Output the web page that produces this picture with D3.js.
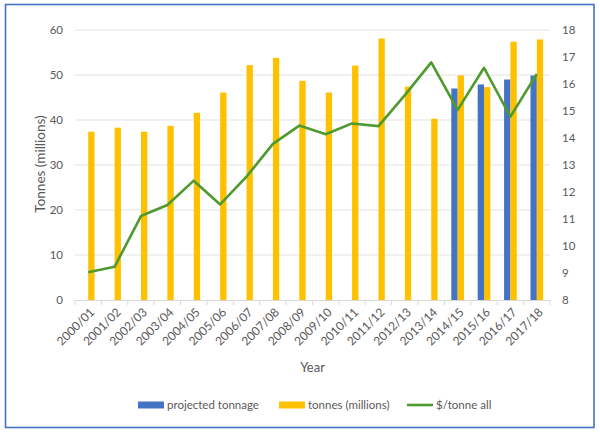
<!DOCTYPE html>
<html>
<head>
<meta charset="utf-8">
<script src="https://cdn.jsdelivr.net/npm/d3@7"></script>
<style>
  body { margin: 0; background: #fff; }
  text { font-family: Lato, "Open Sans", sans-serif; fill: #595959; }
</style>
</head>
<body>
<svg id="chart" width="600" height="434"></svg>
<script>
const years = ['2000/01', '2001/02', '2002/03', '2003/04', '2004/05', '2005/06', '2006/07', '2007/08', '2008/09',
  '2009/10', '2010/11', '2011/12', '2012/13', '2013/14', '2014/15', '2015/16', '2016/17', '2017/18']
// projected tonnage only exists for the last four years
const projected = [null, null, null, null, null, null, null, null, null, null, null, null, null, null, 47.0, 47.9, 49.0, 49.9]
const tonnes = [37.4, 38.3, 37.4, 38.7, 41.6, 46.1, 52.2, 53.8, 48.7, 46.1, 52.1, 58.1, 47.4, 40.3, 49.9, 47.3, 57.4, 57.9]
const pricePerTonne = [9.03, 9.23, 11.11, 11.52, 12.42, 11.54, 12.57, 13.78, 14.46, 14.14, 14.54, 14.44, 15.59, 16.8, 15.04, 16.6, 14.79, 16.37]
const leftTicks = [0, 10, 20, 30, 40, 50, 60]
const rightTicks = [8, 9, 10, 11, 12, 13, 14, 15, 16, 17, 18]

const colors = { projected: '#4472C4', tonnes: '#FFC000', price: '#4E9A2F' }

const svg = d3.select('#chart')
const margin = { top: 30, right: 50, bottom: 134, left: 75 }
const width = 600 - margin.left - margin.right
const height = 434 - margin.top - margin.bottom

// outer frame
svg.append('rect')
  .attr('x', 5.5).attr('y', 4.5)
  .attr('width', 588.5).attr('height', 423)
  .attr('fill', '#fff')
  .attr('stroke', '#4472C4')
  .attr('stroke-width', 1.6)

const g = svg.append('g').attr('transform', `translate(${margin.left},${margin.top})`)

const x = d3.scaleBand().domain(years).range([0, width])
const y = d3.scaleLinear().domain([0, 60]).range([height, 0])
const y2 = d3.scaleLinear().domain([8, 18]).range([height, 0])
const barW = x.bandwidth() * 0.24

// gridlines
g.append('g').selectAll('line').data(leftTicks.slice(1)).enter().append('line')
  .attr('x1', 0).attr('x2', width)
  .attr('y1', d => y(d)).attr('y2', d => y(d))
  .attr('stroke', '#e3e3e3').attr('stroke-width', 1)

// left axis
const yAxis = g.append('g').call(d3.axisLeft(y).tickValues(leftTicks).tickSize(0).tickPadding(12))
yAxis.select('.domain').remove()
yAxis.selectAll('text').style('font-size', '11.5px').attr('fill', '#595959')

// right axis
const yAxis2 = g.append('g').attr('transform', `translate(${width},0)`)
  .call(d3.axisRight(y2).tickValues(rightTicks).tickSize(0).tickPadding(12))
yAxis2.select('.domain').remove()
yAxis2.selectAll('text').style('font-size', '11.5px').attr('fill', '#595959')

// bars
g.append('g').selectAll('rect').data(years.filter((d, i) => projected[i] != null)).enter().append('rect')
  .attr('x', d => x(d) + x.bandwidth() / 2 - barW)
  .attr('y', d => y(projected[years.indexOf(d)]))
  .attr('width', barW)
  .attr('height', d => height - y(projected[years.indexOf(d)]))
  .attr('fill', colors.projected)

g.append('g').selectAll('rect').data(years).enter().append('rect')
  .attr('x', d => x(d) + x.bandwidth() / 2)
  .attr('y', (d, i) => y(tonnes[i]))
  .attr('width', barW)
  .attr('height', (d, i) => height - y(tonnes[i]))
  .attr('fill', colors.tonnes)

// x axis
const xAxis = g.append('g').attr('transform', `translate(0,${height})`)
  .call(d3.axisBottom(x).tickSize(0))
xAxis.select('.domain').attr('stroke', '#d9d9d9')
xAxis.selectAll('.tick text')
  .style('font-size', '12px')
  .attr('fill', '#595959')
  .attr('text-anchor', 'end')
  .attr('x', 0).attr('y', 0)
  .attr('dy', '0.35em')
  .attr('transform', 'translate(4,10) rotate(-45)')
g.append('g').selectAll('line').data(years.concat([null])).enter().append('line')
  .attr('x1', (d, i) => i * x.step()).attr('x2', (d, i) => i * x.step())
  .attr('y1', height).attr('y2', height + 5)
  .attr('stroke', '#d9d9d9')

// price line
const line = d3.line()
  .x(d => x(d) + x.bandwidth() / 2)
  .y((d, i) => y2(pricePerTonne[i]))
g.append('path').datum(years)
  .attr('d', line)
  .attr('fill', 'none')
  .attr('stroke', colors.price)
  .attr('stroke-width', 2.6)
  .attr('stroke-linejoin', 'round')

// axis titles
svg.append('text')
  .attr('transform', `translate(45,${margin.top + height / 2 - 1}) rotate(-90)`)
  .attr('text-anchor', 'middle')
  .style('font-size', '13.5px')
  .text('Tonnes (millions)')
svg.append('text')
  .attr('x', margin.left + width / 2).attr('y', 372)
  .attr('text-anchor', 'middle')
  .style('font-size', '13px')
  .text('Year')

// legend
const legend = [
  { label: 'projected tonnage', color: colors.projected, type: 'rect', x: 138 },
  { label: 'tonnes (millions)', color: colors.tonnes, type: 'rect', x: 279 },
  { label: '$/tonne all', color: colors.price, type: 'line', x: 407 }
]
const lg = svg.append('g').selectAll('g').data(legend).enter().append('g')
  .attr('transform', d => `translate(${d.x},405)`)
lg.filter(d => d.type === 'rect').append('rect')
  .attr('x', 0).attr('y', -3.5).attr('width', 26).attr('height', 7)
  .attr('fill', d => d.color)
lg.filter(d => d.type === 'line').append('line')
  .attr('x1', 0).attr('x2', 26).attr('y1', 0).attr('y2', 0)
  .attr('stroke', d => d.color).attr('stroke-width', 2.6)
lg.append('text')
  .attr('x', 29).attr('y', 4)
  .style('font-size', '11.5px')
  .text(d => d.label)
</script>
</body>
</html>
